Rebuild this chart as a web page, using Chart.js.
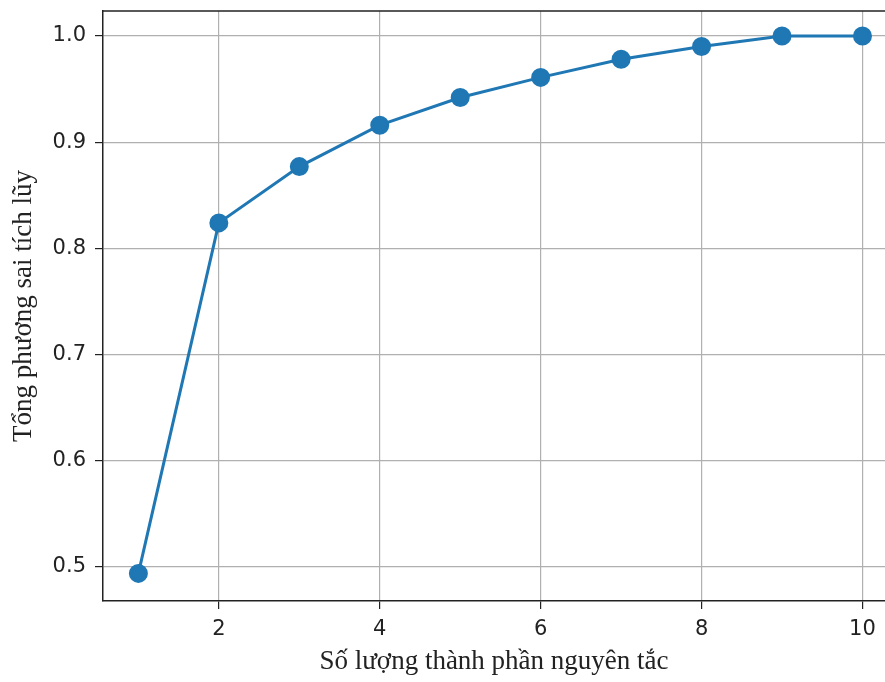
<!DOCTYPE html>
<html>
<head>
<meta charset="utf-8">
<script src="https://cdn.jsdelivr.net/npm/chart.js@4/dist/chart.umd.min.js"></script>
<style>
  html, body { margin: 0; padding: 0; background: #fff; }
  #wrap { width: 885px; height: 682px; }
</style>
</head>
<body>
<div id="wrap"><canvas id="varChart" width="885" height="682"></canvas></div>
<script>
// number of components and cumulative explained variance
const components = [1, 2, 3, 4, 5, 6, 7, 8, 9, 10];
const cumVariance = [0.494, 0.824, 0.877, 0.916, 0.942, 0.961, 0.978, 0.990, 1.0, 1.0];
const xTicks = [2, 4, 6, 8, 10];
const yTicks = [0.5, 0.6, 0.7, 0.8, 0.9, 1.0];
const xTitle = 'Số lượng thành phần nguyên tắc';
const yTitle = 'Tổng phương sai tích lũy';

// top border of the axes box
const frame = {
    id: 'frame',
    afterDraw(chart) {
        const { ctx, chartArea } = chart;
        ctx.save();
        ctx.strokeStyle = '#222';
        ctx.lineWidth = 1.5;
        ctx.beginPath();
        ctx.moveTo(chartArea.left, chartArea.top);
        ctx.lineTo(chartArea.right, chartArea.top);
        ctx.stroke();
        ctx.restore();
    }
};

const tickFont = { family: 'DejaVu Sans', size: 21 };
const titleFont = { family: 'Liberation Serif', size: 27 };

new Chart(document.getElementById('varChart'), {
    type: 'line',
    data: {
        datasets: [{
            data: components.map((c, i) => ({ x: c, y: cumVariance[i] })),
            borderColor: '#1f77b4',
            backgroundColor: '#1f77b4',
            borderWidth: 3,
            pointRadius: 8,
            pointHoverRadius: 8,
            tension: 0
        }]
    },
    options: {
        responsive: false,
        animation: false,
        layout: { autoPadding: false, padding: { top: 11, right: 0, left: 0, bottom: 0 } },
        plugins: {
            legend: { display: false },
            tooltip: { enabled: false }
        },
        scales: {
            x: {
                type: 'linear',
                min: 0.56,
                max: 10.28,
                afterBuildTicks: s => { s.ticks = xTicks.map(v => ({ value: v })); },
                afterFit: s => { s.height = 81; s.paddingLeft = 0; s.paddingRight = 0; },
                grid: { color: '#b0b0b0', lineWidth: 1.2, tickLength: 8, tickColor: '#222' },
                border: { color: '#222', width: 1.5 },
                ticks: { font: tickFont, color: '#222', padding: 8, maxRotation: 0, autoSkip: false },
                title: { display: true, text: xTitle, font: titleFont, color: '#222', padding: { top: 0 } }
            },
            y: {
                min: 0.468,
                max: 1.0235,
                afterBuildTicks: s => { s.ticks = yTicks.map(v => ({ value: v })); },
                afterFit: s => { s.width = 103; s.paddingTop = 0; s.paddingBottom = 0; },
                grid: { color: '#b0b0b0', lineWidth: 1.2, tickLength: 8, tickColor: '#222' },
                border: { color: '#222', width: 1.5 },
                ticks: { font: tickFont, color: '#222', padding: 9, autoSkip: false,
                         callback: v => v.toFixed(1) },
                title: { display: true, text: yTitle, font: titleFont, color: '#222', padding: { top: 8, bottom: 4 } }
            }
        }
    },
    plugins: [frame]
});
</script>
</body>
</html>
